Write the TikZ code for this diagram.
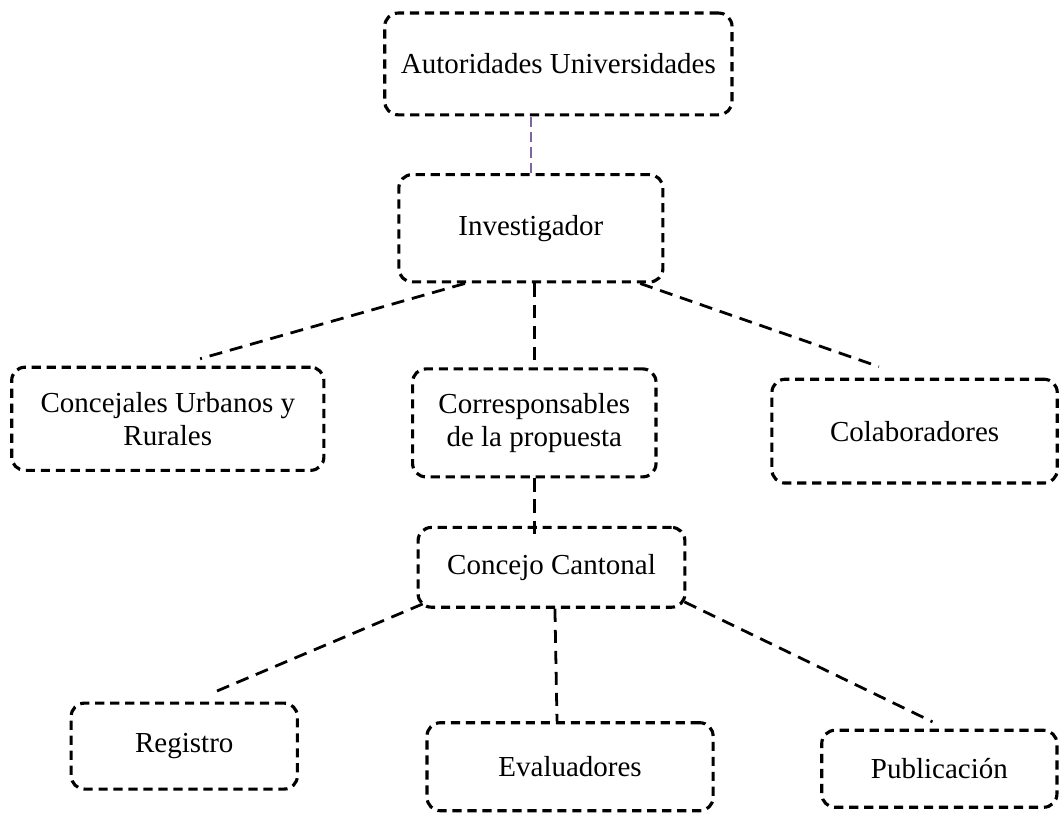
\documentclass[tikz,border=0pt]{standalone}
\usepackage{fontspec}
\setmainfont{Liberation Serif}
\usetikzlibrary{calc}
\definecolor{lila}{RGB}{128,100,162}
\begin{document}
\begin{tikzpicture}[line join=round,
  caja/.style={draw,line width=1.3pt,dash pattern=on 3.8pt off 2.4pt,rounded corners=5.5pt,
    align=center,inner sep=0pt,font=\fontsize{12}{13.8}\selectfont},
  enlace/.style={line width=1.15pt,dash pattern=on 5.4pt off 3.3pt}]
  \useasboundingbox (0,0) rectangle (15.40,11.81);
  % cajas
  \node[caja,minimum width=5.05cm,minimum height=1.48cm] (aut) at (8.12,10.88) {Autoridades Universidades};
  \node[caja,minimum width=3.84cm,minimum height=1.56cm] (inv) at (7.72,8.49) {Investigador};
  \node[caja,minimum width=4.54cm,minimum height=1.50cm] (con) at (2.44,5.72) {Concejales Urbanos y\\Rurales};
  \node[caja,minimum width=3.54cm,minimum height=1.57cm] (cor) at (7.77,5.66) {Corresponsables\\de la propuesta};
  \node[caja,minimum width=4.15cm,minimum height=1.51cm] (col) at (13.30,5.54) {Colaboradores};
  \node[caja,minimum width=3.88cm,minimum height=1.16cm] (cc) at (8.02,3.56) {Concejo Cantonal};
  \node[caja,minimum width=3.29cm,minimum height=1.25cm] (reg) at (2.68,0.96) {Registro};
  \node[caja,minimum width=4.16cm,minimum height=1.28cm] (eva) at (8.29,0.66) {Evaluadores};
  \node[caja,minimum width=3.42cm,minimum height=1.12cm] (pub) at (13.66,0.63) {Publicación};
  % enlaces
  \draw[line width=1pt,lila,dash pattern=on 4.2pt off 2.2pt] (inv.north) -- (inv.north |- aut.south);
  \draw[enlace] ($(inv.south)+(-0.96,0)$) -- ($(con.north)+(0.47,0.10)$);
  \draw[enlace] (inv.south -| cor.north) -- ($(cor.north)+(0,0.10)$);
  \draw[enlace] ($(inv.south)+(1.59,0)$) -- ($(col.north)+(-0.52,0.16)$);
  \draw[enlace] (cor.south) -- ($(cor.south |- cc.north)+(0,-0.15)$);
  \draw[enlace] ($(cc.south west)+(0.09,0.07)$) -- ($(reg.north)+(0.42,0.13)$);
  \draw[enlace] ($(cc.south)+(0.05,0)$) -- ($(eva.north)+(-0.19,0)$);
  \draw[enlace] ($(cc.south east)+(-0.03,0.10)$) -- ($(pub.north)+(-0.10,0.10)$);
\end{tikzpicture}
\end{document}
